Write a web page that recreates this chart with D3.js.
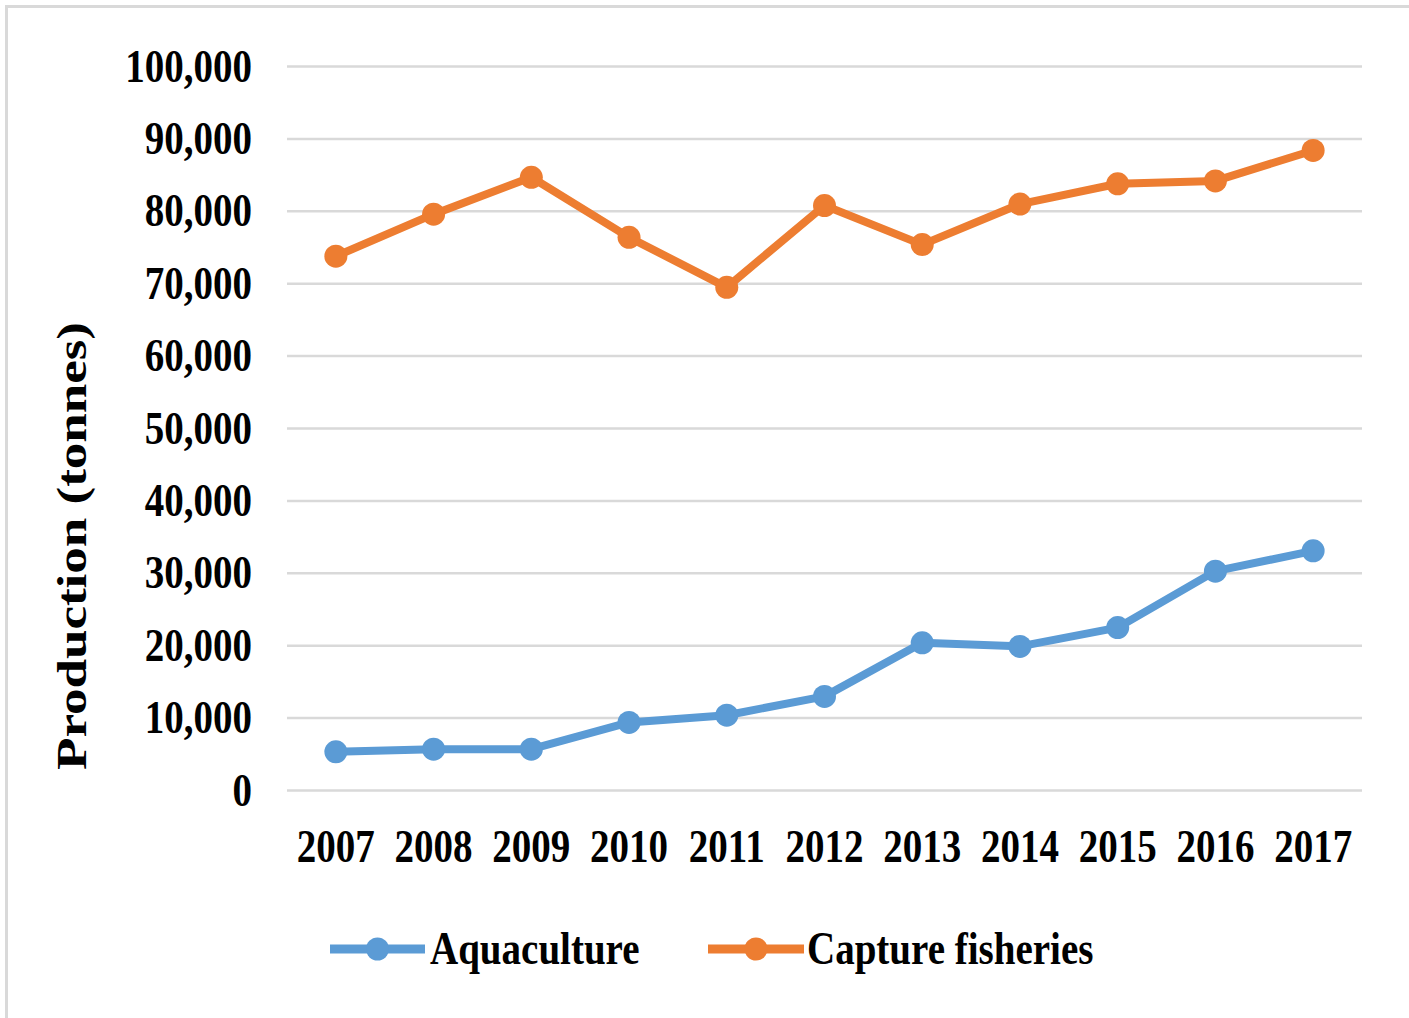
<!DOCTYPE html>
<html>
<head>
<meta charset="utf-8">
<script src="https://cdn.jsdelivr.net/npm/d3@7"></script>
<style>
  html, body { margin: 0; padding: 0; background: #fff; }
  svg { display: block; }
  text { font-family: "Liberation Serif", "Times New Roman", serif; font-weight: bold; fill: #000; }
</style>
</head>
<body>
<script>
const years = ["2007","2008","2009","2010","2011","2012","2013","2014","2015","2016","2017"];
const aquaculture = [5350, 5700, 5700, 9400, 10400, 13000, 20400, 19900, 22500, 30300, 33100];
const captureFisheries = [73800, 79600, 84700, 76400, 69500, 80800, 75400, 81000, 83800, 84200, 88400];
const yTicks = [0, 10000, 20000, 30000, 40000, 50000, 60000, 70000, 80000, 90000, 100000];
const seriesNames = ["Aquaculture", "Capture fisheries"];
const seriesColors = ["#5b9bd5", "#ed7d31"];
const yTitle = "Production (tonnes)";

(function () {
const W = 1409, H = 1018;
const svg = d3.select("body").append("svg").attr("width", W).attr("height", H);

// outer frame (top and left visible)
svg.append("rect").attr("x", 6.5).attr("y", 6.5).attr("width", 1440).attr("height", 1040)
  .attr("fill", "none").attr("stroke", "#d9d9d9").attr("stroke-width", 3);

const pLeft = 287, pRight = 1362, pTop = 66.5, pBottom = 790.5;
const x = d3.scalePoint().domain(years).range([pLeft, pRight]).padding(0.5);
const y = d3.scaleLinear().domain([0, 100000]).range([pBottom, pTop]);

const SX = 0.83; // horizontal squash of the reference's glyphs
function squash(sel) {
  sel.each(function () {
    const len = this.getComputedTextLength();
    d3.select(this).attr("textLength", len * SX).attr("lengthAdjust", "spacingAndGlyphs");
  });
}

// gridlines
svg.append("g").selectAll("line").data(yTicks).join("line")
  .attr("x1", pLeft).attr("x2", pRight)
  .attr("y1", d => y(d)).attr("y2", d => y(d))
  .attr("stroke", "#d9d9d9").attr("stroke-width", 2.5);

// y axis labels
const fmt = d3.format(",");
svg.append("g").selectAll("text").data(yTicks).join("text")
  .attr("x", 252).attr("y", d => y(d) + 15)
  .attr("text-anchor", "end").attr("font-size", 47)
  .text(d => fmt(d)).call(squash);

// x axis labels
svg.append("g").selectAll("text").data(years).join("text")
  .attr("x", d => x(d)).attr("y", 862)
  .attr("text-anchor", "middle").attr("font-size", 47)
  .text(d => d).call(squash);

// y title
svg.append("text")
  .attr("transform", "translate(86,546) rotate(-90) scale(1,0.83)")
  .attr("text-anchor", "middle").attr("font-size", 52)
  .attr("textLength", 448).attr("lengthAdjust", "spacingAndGlyphs")
  .text(yTitle);

// series
const seriesData = [aquaculture, captureFisheries];
const line = d3.line().x((d, i) => x(years[i])).y(d => y(d));
seriesData.forEach((vals, k) => {
  const g = svg.append("g");
  g.append("path").datum(vals).attr("d", line)
    .attr("fill", "none").attr("stroke", seriesColors[k]).attr("stroke-width", 8)
    .attr("stroke-linejoin", "round");
  g.selectAll("circle").data(vals).join("circle")
    .attr("cx", (d, i) => x(years[i])).attr("cy", d => y(d))
    .attr("r", 11.5).attr("fill", seriesColors[k]);
});

// legend
const legendItems = [
  { x1: 330, x2: 425, tx: 430 },
  { x1: 708, x2: 804, tx: 807 }
];
legendItems.forEach((it, k) => {
  const g = svg.append("g");
  g.append("line").attr("x1", it.x1).attr("x2", it.x2).attr("y1", 949).attr("y2", 949)
    .attr("stroke", seriesColors[k]).attr("stroke-width", 9);
  g.append("circle").attr("cx", (it.x1 + it.x2) / 2).attr("cy", 949).attr("r", 11.5)
    .attr("fill", seriesColors[k]);
  g.append("text").attr("x", it.tx).attr("y", 964).attr("font-size", 47)
    .text(seriesNames[k]).call(squash);
});
})();
</script>
</body>
</html>
